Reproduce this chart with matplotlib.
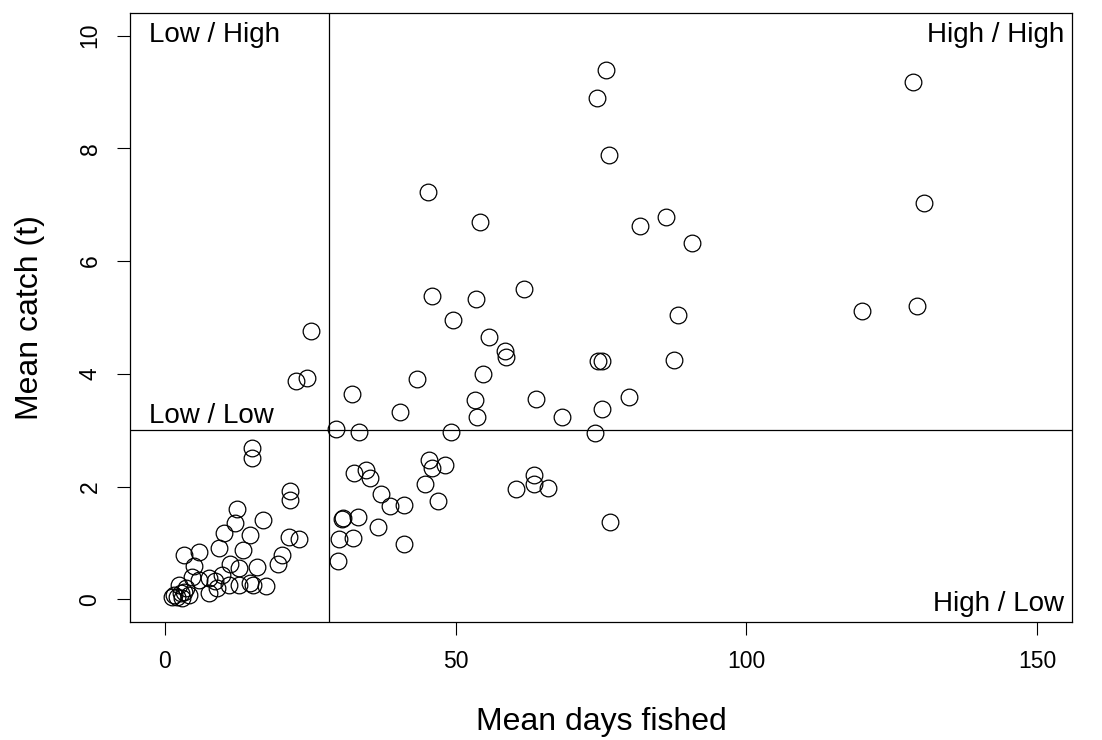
import matplotlib
matplotlib.use("Agg")
import matplotlib.pyplot as plt

plt.rcParams['font.family'] = ['Liberation Sans', 'DejaVu Sans']

# mean days fished / mean catch (t)
days = [75.8, 74.3, 76.3, 128.6, 130.5, 45.2, 54.2, 81.7, 86.2, 90.7,
        61.7, 46.0, 53.5, 119.8, 129.4, 88.3, 74.4, 75.1, 87.5, 79.8,
        75.2, 68.3, 49.6, 55.8, 58.5, 58.7, 54.7, 43.3, 32.1, 40.4,
        53.4, 53.7, 63.8, 22.6, 24.4, 25.2,
        73.9, 29.4, 33.4, 49.2, 76.6, 45.4, 45.9, 48.1, 32.6, 34.5,
        35.3, 44.8, 47.0, 37.1, 38.7, 41.2, 63.5, 63.5, 60.3, 65.9,
        30.6, 30.5, 33.2, 36.6, 30.0, 32.3, 41.2, 29.7,
        15.0, 15.0, 21.5, 21.5, 12.4, 16.8, 12.0, 10.2, 14.7, 21.4,
        23.1, 13.5, 20.1, 9.3, 19.4, 3.3, 5.8, 5.0, 11.2, 12.8,
        15.8, 9.8, 7.6, 5.9, 4.7, 8.6, 11.1, 12.8, 14.6, 15.2,
        17.4, 7.6, 8.9, 2.4, 3.3, 1.6, 2.1, 2.7, 3.6, 4.1, 3.0, 1.3]
catch = [9.39, 8.90, 7.89, 9.17, 7.03, 7.23, 6.70, 6.63, 6.79, 6.32,
         5.51, 5.38, 5.32, 5.12, 5.20, 5.04, 4.22, 4.22, 4.24, 3.59,
         3.37, 3.23, 4.96, 4.66, 4.40, 4.30, 4.00, 3.91, 3.65, 3.32,
         3.53, 3.24, 3.56, 3.88, 3.93, 4.76,
         2.96, 3.02, 2.97, 2.97, 1.37, 2.47, 2.33, 2.39, 2.24, 2.30,
         2.15, 2.04, 1.75, 1.87, 1.65, 1.68, 2.21, 2.05, 1.95, 1.98,
         1.44, 1.42, 1.46, 1.28, 1.08, 1.09, 0.99, 0.69,
         2.68, 2.50, 1.92, 1.76, 1.61, 1.40, 1.36, 1.18, 1.15, 1.11,
         1.07, 0.88, 0.79, 0.91, 0.62, 0.78, 0.84, 0.60, 0.63, 0.56,
         0.57, 0.43, 0.38, 0.35, 0.39, 0.32, 0.26, 0.26, 0.29, 0.26,
         0.23, 0.11, 0.20, 0.26, 0.14, 0.08, 0.05, 0.11, 0.20, 0.08, 0.02, 0.05]

days_cut = 28.3
catch_cut = 3
x_ticks = [0, 50, 100, 150]
y_ticks = [0, 2, 4, 6, 8, 10]

fig = plt.figure(figsize=(11.02, 7.4), dpi=100)
ax = fig.add_axes([0.118, 0.1595, 0.8548, 0.8229])

ax.plot(days, catch, 'o', mfc='none', mec='black', ms=12, mew=0.9, ls='none')
ax.axvline(days_cut, color='black', lw=0.9)
ax.axhline(catch_cut, color='black', lw=0.9)

ax.set_xlim(-6, 156)
ax.set_ylim(-0.4, 10.4)
ax.set_xticks(x_ticks)
ax.set_yticks(y_ticks)
ax.set_yticklabels([str(v) for v in y_ticks], rotation=90, va='center')
ax.tick_params(direction='out', length=9.5, width=0.8, labelsize=16.5, color='black')
ax.tick_params(axis='x', pad=11)
ax.tick_params(axis='y', pad=11)
for s in ax.spines.values():
    s.set_linewidth(0.9)

ax.set_xlabel('Mean days fished', fontsize=23, labelpad=24)
ax.set_ylabel('Mean catch (t)', fontsize=23, labelpad=24)

ax.text(-2.8, 9.88, 'Low / High', fontsize=20, ha='left', va='baseline')
ax.text(154.6, 9.88, 'High / High', fontsize=20, ha='right', va='baseline')
ax.text(-2.8, 3.13, 'Low / Low', fontsize=20, ha='left', va='baseline')
ax.text(154.6, -0.21, 'High / Low', fontsize=20, ha='right', va='baseline')

fig.savefig('out.png', dpi=100)
